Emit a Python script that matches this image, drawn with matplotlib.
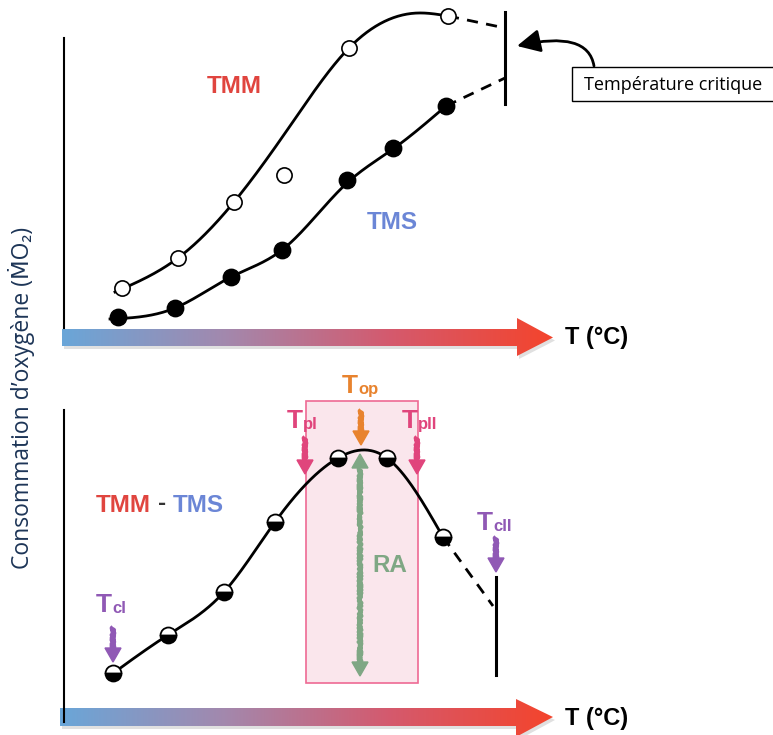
import numpy as np
import matplotlib.pyplot as plt
from matplotlib.colors import LinearSegmentedColormap
from matplotlib.patches import Polygon, Rectangle, FancyArrowPatch
from matplotlib.path import Path

# --- top panel: measured points (pixel space, y grows downward) ---
tmm_x = [122, 178, 234, 284, 349, 448]
tmm_y = [288, 258, 202, 175, 48, 16]
tms_x = [118, 175, 231, 282, 347, 393, 446]
tms_y = [317, 308, 277, 250, 180, 148, 106]

# knots of the fitted curves
tmm_curve_x = [115, 178, 234, 290, 349, 418, 448]
tmm_curve_y = [292, 258, 202, 126, 48, 13, 16]
tms_curve_x = [110, 175, 231, 282, 347, 393, 446]
tms_curve_y = [319, 308, 277, 250, 183, 149, 106]
tmm_dash = ([448, 505], [16, 28])
tms_dash = ([446, 505], [106, 78])

# --- bottom panel: TMM - TMS ---
diff_x = [113, 168, 224, 275, 338, 387, 443]
diff_y = [673, 635, 592, 522, 458, 458, 537]
diff_curve_x = [108, 168, 224, 275, 338, 362, 387, 443]
diff_curve_y = [677, 635, 592, 522, 458, 450, 458, 537]
diff_dash = ([443, 493], [537, 606])

c_tmm = '#e0453f'
c_tms = '#6b86d6'
c_top = '#e8832e'
c_tp = '#e0457c'
c_tc = '#9059b5'
c_ra = '#7fa784'
c_ylab = '#1d3557'
bold = dict(fontweight='bold', family='Liberation Sans')


def spline(xs, ys, n=300):
    # natural cubic spline through the knots
    x = np.asarray(xs, float)
    y = np.asarray(ys, float)
    m = len(x)
    h = np.diff(x)
    A = np.zeros((m, m))
    r = np.zeros(m)
    A[0, 0] = A[-1, -1] = 1
    for i in range(1, m - 1):
        A[i, i - 1] = h[i - 1]
        A[i, i] = 2 * (h[i - 1] + h[i])
        A[i, i + 1] = h[i]
        r[i] = 6 * ((y[i + 1] - y[i]) / h[i] - (y[i] - y[i - 1]) / h[i - 1])
    M = np.linalg.solve(A, r)
    xx = np.linspace(x[0], x[-1], n)
    k = np.clip(np.searchsorted(x, xx) - 1, 0, m - 2)
    a = x[k + 1] - xx
    b = xx - x[k]
    hk = h[k]
    yy = (M[k] * a ** 3 + M[k + 1] * b ** 3) / (6 * hk) \
        + (y[k] / hk - M[k] * hk / 6) * a + (y[k + 1] / hk - M[k + 1] * hk / 6) * b
    return xx, yy


fig = plt.figure(figsize=(7.73, 7.35), dpi=100)
ax = fig.add_axes([0, 0, 1, 1])
ax.set_xlim(0, 773)
ax.set_ylim(735, 0)
ax.axis('off')

cmap = LinearSegmentedColormap.from_list('temp', ['#6aa6d8', '#a388ad', '#d45a6e', '#f4442c'])


def grad_arrow(y0, y1, x0, xb, xtip, ht, hb):
    ym = (y0 + y1) / 2
    verts = [(x0, y0), (xb, y0), (xb, ht), (xtip, ym), (xb, hb), (xb, y1), (x0, y1)]
    shadow = Polygon([(vx + 2, vy + 3) for vx, vy in verts], closed=True, fc='#000000', alpha=0.12, ec='none')
    ax.add_patch(shadow)
    poly = Polygon(verts, closed=True, fc='none', ec='none')
    ax.add_patch(poly)
    grad = np.linspace(0, 1, 256)[None, :]
    im = ax.imshow(grad, cmap=cmap, extent=(x0, xtip, hb, ht), aspect='auto', zorder=1)
    im.set_clip_path(poly)


# top panel axes
ax.plot([64, 64], [38, 328], color='black', lw=1.5)
grad_arrow(329, 346, 62, 517, 553, 318, 356)
ax.text(565, 337, 'T (°C)', fontsize=17, va='center', **bold)

cx, cy = spline(tmm_curve_x, tmm_curve_y)
ax.plot(cx, cy, color='black', lw=2, zorder=3)
cx, cy = spline(tms_curve_x, tms_curve_y)
ax.plot(cx, cy, color='black', lw=2, zorder=3)
ax.plot(*tmm_dash, color='black', lw=2, ls=(0, (4, 3)), zorder=3)
ax.plot(*tms_dash, color='black', lw=2, ls=(0, (4, 3)), zorder=3)
ax.plot([505, 505], [12, 104], color='black', lw=2.2, zorder=3)
ax.scatter(tmm_x, tmm_y, s=120, facecolor='white', edgecolor='black', lw=1.2, zorder=4)
ax.scatter(tms_x, tms_y, s=140, facecolor='black', edgecolor='black', zorder=4)

ax.text(234, 86, 'TMM', color=c_tmm, fontsize=17.5, ha='center', va='center', **bold)
ax.text(392, 222, 'TMS', color=c_tms, fontsize=17.5, ha='center', va='center', **bold)

ax.add_patch(Rectangle((572, 67), 210, 34, fc='white', ec='black', lw=1, zorder=3))
ax.text(584, 85, 'Température critique', fontsize=13, family='Open Sans', va='center', zorder=4)
curve = Path([(594, 66), (588, 30), (517, 46)], [Path.MOVETO, Path.CURVE3, Path.CURVE3])
ax.add_patch(FancyArrowPatch(path=curve, arrowstyle='-|>,head_length=10,head_width=5',
                             color='black', lw=2, zorder=3, mutation_scale=1.4))

# y label
ax.text(22, 398, 'Consommation d’oxygène (ṀO₂)', rotation=90, fontsize=16.5, color=c_ylab,
        family=['Open Sans', 'DejaVu Sans'], ha='center', va='center')

# bottom panel axes
ax.plot([64, 64], [410, 722], color='black', lw=1.5)
grad_arrow(708, 726, 60, 516, 553, 699, 737)
ax.text(565, 718, 'T (°C)', fontsize=17, va='center', **bold)

ax.add_patch(Rectangle((306, 401), 112, 282, fc='#fae6ec', ec='#ee6a94', lw=1.2, zorder=1))

cx, cy = spline(diff_curve_x, diff_curve_y)
ax.plot(cx, cy, color='black', lw=2, zorder=3)
ax.plot(*diff_dash, color='black', lw=2, ls=(0, (4, 3)), zorder=3)
ax.plot([496, 496], [577, 675], color='black', lw=2.2, zorder=3)
ax.plot(diff_x, diff_y, ls='none', marker='o', ms=11.5, fillstyle='bottom', mfc='black',
        mfcalt='white', mec='black', mew=1.3, zorder=4)


def head(x, ybase, ytip, color):
    ax.add_patch(Polygon([(x - 8, ybase), (x + 8, ybase), (x, ytip)], closed=True,
                         fc=color, ec=color, lw=1, zorder=6))


def sketch_arrow(x, y0, y1, color, both=False):
    hl = 14
    s0 = y0 + hl if both else y0
    shaft, = ax.plot([x, x], [s0, y1 - hl + 2], color=color, lw=3.2, zorder=5, solid_capstyle='butt')
    shaft.set_sketch_params(scale=1.3, length=3, randomness=2)
    head(x, y1 - hl, y1, color)
    if both:
        head(x, y0 + hl, y0, color)


sketch_arrow(361, 410, 445, c_top)
sketch_arrow(305, 437, 474, c_tp)
sketch_arrow(417, 437, 474, c_tp)
sketch_arrow(113, 627, 662, c_tc)
sketch_arrow(496, 537, 572, c_tc)
sketch_arrow(360, 454, 676, c_ra, both=True)


def sub_label(x, y, sub, color):
    ax.text(x, y, 'T', color=color, fontsize=19, ha='right', va='baseline', zorder=6, **bold)
    ax.text(x, y + 1, sub, color=color, fontsize=12, ha='left', va='baseline', zorder=6, **bold)


sub_label(358, 393, 'op', c_top)
sub_label(303, 428, 'pI', c_tp)
sub_label(418, 428, 'pII', c_tp)
sub_label(112, 612, 'cI', c_tc)
sub_label(493, 530, 'cII', c_tc)

ax.text(372, 566, 'RA', color=c_ra, fontsize=17.5, ha='left', va='center', zorder=6, **bold)

ax.text(96, 505, 'TMM', color=c_tmm, fontsize=17.5, va='center', **bold)
ax.text(158, 503, '-', color='#333333', fontsize=17.5, va='center', **bold)
ax.text(173, 505, 'TMS', color=c_tms, fontsize=17.5, va='center', **bold)

fig.savefig('out.png', dpi=100)
